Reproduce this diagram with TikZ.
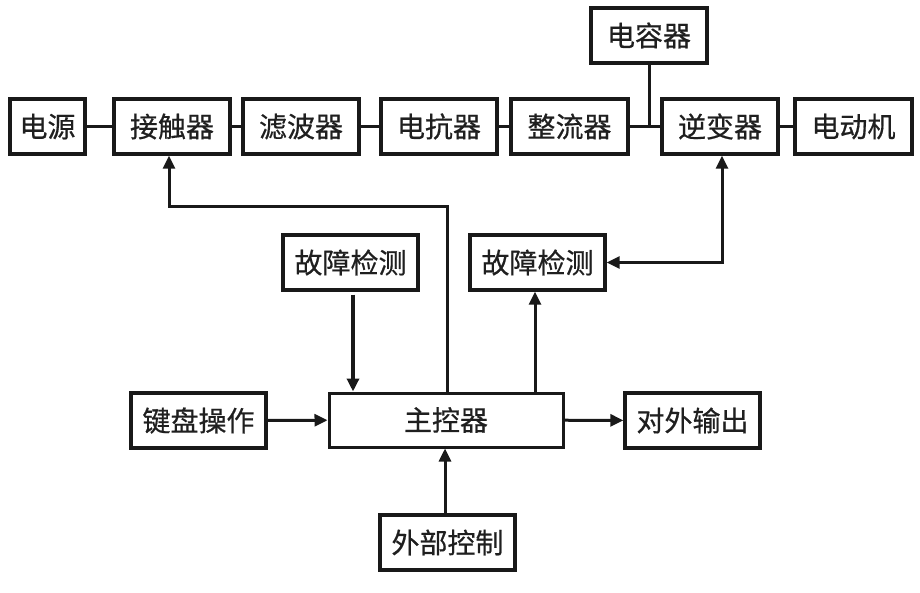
\documentclass[tikz,border=0pt]{standalone}
\usepackage{fontspec}
\newfontfamily\cjk[FakeBold=0.6]{Noto Sans CJK SC}
\usetikzlibrary{arrows.meta}
\begin{document}
\begin{tikzpicture}[x=1pt,y=-1pt,
  blk/.style={draw=black!90,line width=3.4pt,minimum height=55pt,inner sep=0pt,font=\cjk\fontsize{28}{30}\selectfont,text=black!88},
  ln/.style={line width=3pt,draw=black!90},
  arr/.style={ln,-{Triangle[length=13pt,width=12pt]}},
  darr/.style={ln,{Triangle[length=13pt,width=12pt]}-{Triangle[length=13pt,width=12pt]}}]
\useasboundingbox (0,0) rectangle (920,593);
\node[blk,minimum width=75pt] (dy) at (47.5,126.5) {电源};
\node[blk,minimum width=116pt] (jc) at (172,126.5) {接触器};
\node[blk,minimum width=116pt] (lb) at (301,126.5) {滤波器};
\node[blk,minimum width=116pt] (dk) at (439,126.5) {电抗器};
\node[blk,minimum width=117pt] (zl) at (569.5,126.5) {整流器};
\node[blk,minimum width=116pt] (nb) at (720,126.5) {逆变器};
\node[blk,minimum width=117pt] (dd) at (853.5,126.5) {电动机};
\node[blk,minimum width=116pt] (dr) at (649,35.5) {电容器};
\node[blk,minimum width=135pt] (f1) at (350.5,262.5) {故障检测};
\node[blk,minimum width=135pt] (f2) at (537.5,262.5) {故障检测};
\node[blk,minimum width=234pt,minimum height=54pt,line width=3pt] (zk) at (446,420) {主控器};
\node[blk,minimum width=135pt] (jp) at (198.5,420.5) {键盘操作};
\node[blk,minimum width=135pt] (dw) at (692.5,420.5) {对外输出};
\node[blk,minimum width=135pt] (wb) at (447.5,542.5) {外部控制};
% power chain
\draw[ln] (dy) -- (jc);
\draw[ln] (jc) -- (lb);
\draw[ln] (lb) -- (dk);
\draw[ln] (dk) -- (zl);
\draw[ln] (zl) -- (nb);
\coordinate (cj) at (dr.south |- zl.east);
\draw[ln] (dr.south) -- (cj);
\draw[ln] (nb) -- (dd);
% controller links
\coordinate (t1) at (447,207);
\draw[arr] (zk.north -| t1) -- (t1) -| ([xshift=-3pt]jc.south);
\draw[arr,line width=4pt] ([xshift=2.5pt,yshift=-3pt]f1.south) -- ([xshift=2.5pt]f1.south |- zk.north);
\draw[arr] ([xshift=-2.5pt]f2.south |- zk.north) -- ([xshift=-2.5pt]f2.south);
\draw[darr] (f2.east) -| ([xshift=2pt]nb.south);
\draw[arr] (jp) -- (zk);
\draw[arr] (zk) -- (dw);
\draw[arr] ([xshift=-2.5pt]wb.north) -- ([xshift=-2.5pt]wb.north |- zk.south);
\end{tikzpicture}
\end{document}
